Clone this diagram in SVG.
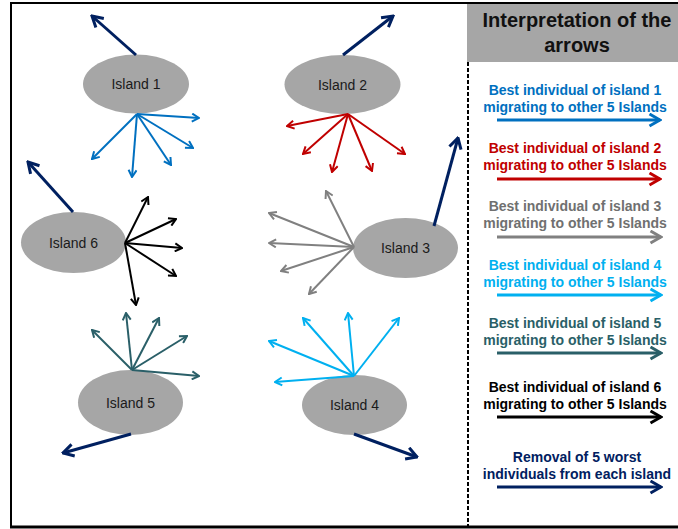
<svg xmlns="http://www.w3.org/2000/svg" width="678" height="529" viewBox="0 0 678 529">
<style>
.isl{fill:#a6a6a6}
.lbl{font-family:"Liberation Sans",Arial,sans-serif;font-size:14px;fill:#1a1a1a;text-anchor:middle}
.leg{font-family:"Liberation Sans",Arial,sans-serif;font-size:14px;font-weight:bold;text-anchor:middle}
.hdr{font-family:"Liberation Sans",Arial,sans-serif;font-size:20px;font-weight:bold;text-anchor:middle;fill:#111}
.fan{stroke-width:2;fill:none}
.thick{stroke-width:3;fill:none}
</style>
<defs>
<marker id="m-blue" viewBox="0 0 10 10" refX="9" refY="5" markerWidth="5" markerHeight="5" orient="auto" markerUnits="strokeWidth"><path d="M2,1 L9,5 L2,9" fill="none" stroke="#0070c0" stroke-width="2"/></marker>
<marker id="m-red" viewBox="0 0 10 10" refX="9" refY="5" markerWidth="5" markerHeight="5" orient="auto" markerUnits="strokeWidth"><path d="M2,1 L9,5 L2,9" fill="none" stroke="#c00000" stroke-width="2"/></marker>
<marker id="m-gray" viewBox="0 0 10 10" refX="9" refY="5" markerWidth="5" markerHeight="5" orient="auto" markerUnits="strokeWidth"><path d="M2,1 L9,5 L2,9" fill="none" stroke="#808080" stroke-width="2"/></marker>
<marker id="m-lblue" viewBox="0 0 10 10" refX="9" refY="5" markerWidth="5" markerHeight="5" orient="auto" markerUnits="strokeWidth"><path d="M2,1 L9,5 L2,9" fill="none" stroke="#00b0f0" stroke-width="2"/></marker>
<marker id="m-teal" viewBox="0 0 10 10" refX="9" refY="5" markerWidth="5" markerHeight="5" orient="auto" markerUnits="strokeWidth"><path d="M2,1 L9,5 L2,9" fill="none" stroke="#2a5f68" stroke-width="2"/></marker>
<marker id="m-black" viewBox="0 0 10 10" refX="9" refY="5" markerWidth="5" markerHeight="5" orient="auto" markerUnits="strokeWidth"><path d="M2,1 L9,5 L2,9" fill="none" stroke="#000" stroke-width="2"/></marker>
<marker id="m-navy" viewBox="0 0 10 10" refX="9" refY="5" markerWidth="5" markerHeight="5" orient="auto" markerUnits="strokeWidth"><path d="M2,1 L9,5 L2,9" fill="none" stroke="#002060" stroke-width="2"/></marker>
</defs>
<rect x="0" y="0" width="678" height="529" fill="#fff"/>
<!-- frame -->
<g id="frame" fill="none" stroke="#000">
<line x1="11" y1="3" x2="678" y2="3" stroke-width="2"/>
<line x1="11" y1="2" x2="11" y2="528" stroke-width="2"/>
<line x1="10" y1="527" x2="678" y2="527" stroke-width="3"/>
</g>
<!-- legend header -->
<g id="legend-header">
<rect x="467" y="4" width="211" height="58" fill="#a6a6a6"/>
<text class="hdr" x="577" y="27">Interpretation of the</text>
<text class="hdr" x="577" y="52">arrows</text>
</g>
<line x1="468" y1="62" x2="468" y2="527" stroke="#000" stroke-width="2" stroke-dasharray="4,2"/>
<!-- islands -->
<g id="island1"><ellipse class="isl" cx="136" cy="84" rx="53" ry="29.5"/><text class="lbl" x="136" y="89">Island 1</text></g>
<g id="island2"><ellipse class="isl" cx="342.5" cy="84.5" rx="58" ry="29.5"/><text class="lbl" x="342.5" y="89.5">Island 2</text></g>
<g id="island3"><ellipse class="isl" cx="405.5" cy="248" rx="52.5" ry="30"/><text class="lbl" x="405.5" y="253">Island 3</text></g>
<g id="island4"><ellipse class="isl" cx="354.5" cy="405" rx="52.5" ry="30"/><text class="lbl" x="354.5" y="410">Island 4</text></g>
<g id="island5"><ellipse class="isl" cx="130.5" cy="402.5" rx="52.5" ry="32.5"/><text class="lbl" x="130.5" y="407.5">Island 5</text></g>
<g id="island6"><ellipse class="isl" cx="73.5" cy="242.5" rx="52.5" ry="30.5"/><text class="lbl" x="73.5" y="247.5">Island 6</text></g>
<!-- connectors -->
<g id="connectors">
<g stroke="#0070c0" class="fan" marker-end="url(#m-blue)">
<line x1="137" y1="114" x2="199" y2="118"/>
<line x1="137" y1="114" x2="193" y2="148"/>
<line x1="137" y1="114" x2="171" y2="165"/>
<line x1="137" y1="114" x2="132" y2="177"/>
<line x1="137" y1="114" x2="92" y2="159"/>
</g>
<g stroke="#c00000" class="fan" marker-end="url(#m-red)">
<line x1="348" y1="114" x2="287" y2="126"/>
<line x1="348" y1="114" x2="303" y2="154"/>
<line x1="348" y1="114" x2="332" y2="172"/>
<line x1="348" y1="114" x2="372" y2="171"/>
<line x1="348" y1="114" x2="405" y2="154"/>
</g>
<g stroke="#808080" class="fan" marker-end="url(#m-gray)">
<line x1="354" y1="247" x2="326" y2="191"/>
<line x1="354" y1="247" x2="269" y2="213"/>
<line x1="354" y1="247" x2="269" y2="243"/>
<line x1="354" y1="247" x2="281" y2="271"/>
<line x1="354" y1="247" x2="309" y2="294"/>
</g>
<g stroke="#000" class="fan" marker-end="url(#m-black)">
<line x1="125" y1="243" x2="148" y2="197"/>
<line x1="125" y1="243" x2="176" y2="219"/>
<line x1="125" y1="243" x2="182" y2="248"/>
<line x1="125" y1="243" x2="176" y2="276"/>
<line x1="125" y1="243" x2="136" y2="305"/>
</g>
<g stroke="#2a5f68" class="fan" marker-end="url(#m-teal)">
<line x1="132" y1="370" x2="92" y2="330"/>
<line x1="132" y1="370" x2="126" y2="313"/>
<line x1="132" y1="370" x2="159" y2="318"/>
<line x1="132" y1="370" x2="187" y2="336"/>
<line x1="132" y1="370" x2="199" y2="376"/>
</g>
<g stroke="#00b0f0" class="fan" marker-end="url(#m-lblue)">
<line x1="354" y1="376" x2="275" y2="382"/>
<line x1="354" y1="376" x2="269" y2="341"/>
<line x1="354" y1="376" x2="303" y2="318"/>
<line x1="354" y1="376" x2="348" y2="313"/>
<line x1="354" y1="376" x2="399" y2="318"/>
</g>
<g stroke="#002060" class="thick" marker-end="url(#m-navy)">
<line x1="136" y1="55" x2="92" y2="16"/>
<line x1="343" y1="55" x2="393" y2="16"/>
<line x1="434" y1="226" x2="458" y2="138"/>
<line x1="73" y1="212" x2="28" y2="162"/>
<line x1="131" y1="434" x2="63" y2="453"/>
<line x1="354" y1="434" x2="417" y2="457"/>
</g>
</g>
<!-- legend items -->
<g id="legend-island1">
<text class="leg" fill="#0070c0" x="575" y="95">Best individual of island 1</text>
<text class="leg" fill="#0070c0" x="575" y="112">migrating to other 5 Islands</text>
<line x1="497" y1="120" x2="660" y2="120" stroke="#0070c0" class="thick" marker-end="url(#m-blue)"/>
</g>
<g id="legend-island2">
<text class="leg" fill="#c00000" x="575" y="153">Best individual of island 2</text>
<text class="leg" fill="#c00000" x="575" y="170">migrating to other 5 Islands</text>
<line x1="497" y1="179" x2="660" y2="179" stroke="#c00000" class="thick" marker-end="url(#m-red)"/>
</g>
<g id="legend-island3">
<text class="leg" fill="#707070" x="575" y="211">Best individual of island 3</text>
<text class="leg" fill="#707070" x="575" y="228">migrating to other 5 Islands</text>
<line x1="497" y1="237" x2="661" y2="237" stroke="#808080" class="thick" marker-end="url(#m-gray)"/>
</g>
<g id="legend-island4">
<text class="leg" fill="#00b0f0" x="575" y="270">Best individual of island 4</text>
<text class="leg" fill="#00b0f0" x="575" y="287">migrating to other 5 Islands</text>
<line x1="497" y1="295" x2="661" y2="295" stroke="#00b0f0" class="thick" marker-end="url(#m-lblue)"/>
</g>
<g id="legend-island5">
<text class="leg" fill="#2a5f68" x="575" y="328">Best individual of island 5</text>
<text class="leg" fill="#2a5f68" x="575" y="345">migrating to other 5 Islands</text>
<line x1="497" y1="353" x2="661" y2="353" stroke="#2a5f68" class="thick" marker-end="url(#m-teal)"/>
</g>
<g id="legend-island6">
<text class="leg" fill="#000" x="575" y="392">Best individual of island 6</text>
<text class="leg" fill="#000" x="575" y="409">migrating to other 5 Islands</text>
<line x1="497" y1="417" x2="661" y2="417" stroke="#000" class="thick" marker-end="url(#m-black)"/>
</g>
<g id="legend-removal">
<text class="leg" fill="#002060" x="577" y="462">Removal of 5 worst</text>
<text class="leg" fill="#002060" x="577" y="479">individuals from each island</text>
<line x1="497" y1="487" x2="661" y2="487" stroke="#002060" class="thick" marker-end="url(#m-navy)"/>
</g>
</svg>
